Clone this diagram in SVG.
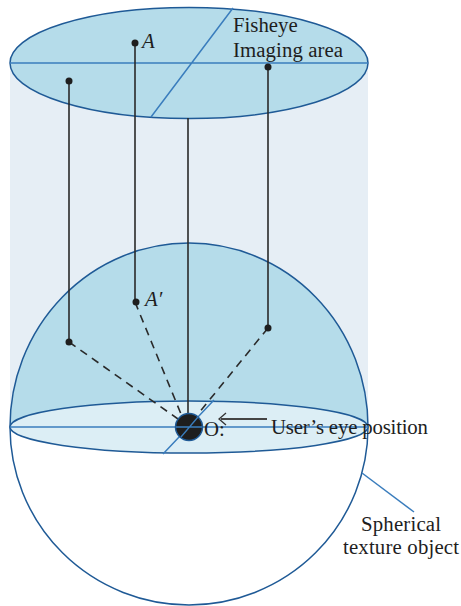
<svg xmlns="http://www.w3.org/2000/svg" width="461" height="606" viewBox="0 0 461 606">
<style>
.o{stroke:#1f5a96;stroke-width:1.5}
.b{stroke:#3a7dbd;stroke-width:1.5;fill:none}
.k{stroke:#2a2a2a;stroke-width:1.6;fill:none}
.d{stroke:#2a2a2a;stroke-width:1.6;fill:none;stroke-dasharray:8 6}
.p{fill:#1e1e1e}
text{font-family:"Liberation Serif",serif;font-size:20.800px;fill:#1e1e1e}
</style>
<rect width="461" height="606" fill="#fff"/>
<g id="cylinder"><rect x="10" y="63" width="358" height="364" fill="#e6eef5"/></g>
<g id="sphere">
<path d="M10 427A179 184 0 0 1 368 427Z" fill="#b5dcea"/>
<path d="M10 427A179 178 0 0 0 368 427Z" fill="#fff"/>
<path d="M10 427A179 184 0 0 1 368 427A179 178 0 0 1 10 427Z" class="o" fill="none"/>
</g>
<g id="base-ellipse">
<ellipse cx="189" cy="427" rx="179" ry="26" fill="#dceef5" class="o"/>
<path d="M10 427H368M163 454L214 400" class="b"/>
</g>
<g id="imaging-area">
<ellipse cx="189" cy="63" rx="179" ry="55.500" fill="#b5dcea" class="o"/>
<path d="M10 63H368M233 8L151 117" class="b"/>
<text x="233" y="32">Fisheye</text>
<text x="233" y="57" textLength="110">Imaging area</text>
</g>
<g id="connectors">
<path d="M69 81V342M135 43V302M268 67V328M188 118V420" class="k"/>
<path d="M69 342L178 419M135 302L181 414M268 328L198 414" class="d"/>
<path d="M221 419H267" stroke="#444" stroke-width="1.800" fill="none"/>
<path d="M226 413L219 419L226 425" stroke="#333" stroke-width="1.300" fill="none"/>
<path d="M362 473L414 512" class="b"/>
</g>
<g id="points">
<circle class="p" cx="69" cy="81" r="3.500"/><circle class="p" cx="135" cy="43" r="3.500"/><circle class="p" cx="268" cy="67" r="3.500"/>
<circle class="p" cx="69" cy="342" r="3.500"/><circle class="p" cx="136" cy="302" r="3.500"/><circle class="p" cx="268" cy="328" r="3.500"/>
<text x="142" y="48" font-style="italic">A</text>
<text x="145" y="306" font-style="italic">A′</text>
</g>
<g id="eye">
<circle cx="189" cy="427" r="13.500" fill="#1e1e1e" stroke="#1f5a96" stroke-width="1.500"/>
<path d="M176 427H202M181 437L198 417" stroke="#3a7dbd" stroke-width="1.300" fill="none"/>
<text x="204" y="436">O:</text>
</g>
<g id="labels">
<text x="271" y="434" textLength="157">User’s eye position</text>
<text x="361" y="531" textLength="80">Spherical</text>
<text x="343" y="554" textLength="116">texture object</text>
</g>
</svg>
